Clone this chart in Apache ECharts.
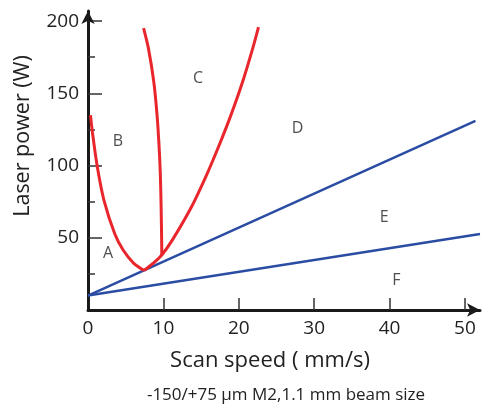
<!DOCTYPE html>
<html>
<head>
<meta charset="utf-8">
<script src="https://cdn.jsdelivr.net/npm/echarts@6/dist/echarts.min.js"></script>
<style>html,body{margin:0;padding:0;background:#fff}#c{width:487px;height:408px}</style>
</head>
<body>
<div id="c"></div>
<script>
// ---- data ----
const xTickLabels = [0, 10, 20, 30, 40, 50];
const xTicks = [10, 20, 30, 40, 50];
const yTickLabels = [50, 100, 150, 200];
const yMinorTicks = [25, 75, 125, 175];

const upperBlue = [[0, 10], [51.4, 131]];
const lowerBlue = [[0, 10], [52, 52.6]];
const redLeft = [[0.33, 134.9], [0.60, 122.5], [1.24, 99.0], [2.11, 76.1], [3.56, 52.6], [4.66, 41.5], [6.04, 32.5], [7.44, 27.3]];
const redRight = [[7.44, 27.3], [8.62, 32.2], [9.79, 38.1], [11.18, 48.4], [13.72, 71.3], [15.84, 94.8], [17.41, 114.2], [18.96, 134.9], [20.50, 157.8], [21.86, 181.3], [22.62, 195.8]];
const redC = [[7.37, 195.2], [8.01, 181.3], [8.73, 157.8], [9.16, 134.9], [9.42, 114.2], [9.59, 94.8], [9.70, 71.3], [9.77, 48.4], [9.79, 38.1]];

const regionNames = ['A', 'B', 'C', 'D', 'E', 'F'];
const regionX = [2.66, 3.98, 14.6, 27.8, 39.3, 40.9];
const regionY = [39.4, 116.6, 160.6, 125.9, 64.4, 20.4];

const xTitle = 'Scan speed ( mm/s)';
const yTitle = 'Laser power (W)';
const subTitle = '-150/+75 µm M2,1.1 mm beam size';

// ---- chart ----
const FONT = 'Open Sans';
const RED = '#e8262c';
const BLUE = '#2a4da3';
const chart = echarts.init(document.getElementById('c'), null, { renderer: 'canvas' });

const regionData = regionNames.map((n, i) => ({ name: n, value: [regionX[i], regionY[i]] }));

chart.setOption({
  animation: false,
  backgroundColor: '#fff',
  grid: { left: 88, top: 11, width: 392, height: 299, containLabel: false },
  xAxis: {
    type: 'value', min: 0, max: 52,
    splitLine: { show: false },
    axisLine: { show: true, lineStyle: { color: '#1a1a1a', width: 3 }, symbol: ['none', 'arrow'], symbolSize: [10, 13] },
    axisTick: { show: true, inside: true, length: 12, customValues: xTicks, lineStyle: { color: '#333', width: 1.5 } },
    axisLabel: { customValues: xTickLabels, margin: 9, color: '#222', fontSize: 19, fontFamily: FONT }
  },
  yAxis: [{
    type: 'value', min: 0, max: 207, position: 'left',
    splitLine: { show: false },
    axisLine: { show: true, lineStyle: { color: '#1a1a1a', width: 3 }, symbol: ['none', 'arrow'], symbolSize: [10, 13] },
    axisTick: { show: true, inside: true, length: 14, customValues: yTickLabels, lineStyle: { color: '#333', width: 1.5 } },
    axisLabel: { customValues: yTickLabels, margin: 9, color: '#222', fontSize: 19, fontFamily: FONT }
  }, {
    type: 'value', min: 0, max: 207, position: 'left', offset: 0,
    splitLine: { show: false },
    axisLine: { show: false },
    axisTick: { show: true, inside: true, length: 7, customValues: yMinorTicks, lineStyle: { color: '#333', width: 1.5 } },
    axisLabel: { show: false }
  }],
  graphic: [
    { type: 'text', x: 270, y: 361, style: { text: xTitle, font: '22px "Open Sans"', fill: '#222', align: 'center', verticalAlign: 'middle' } },
    { type: 'text', x: 23, y: 136, rotation: Math.PI / 2, style: { text: yTitle, font: '21.5px "Open Sans"', fill: '#222', align: 'center', verticalAlign: 'middle' } },
    { type: 'text', x: 286, y: 395, style: { text: subTitle, font: '17px "Open Sans"', fill: '#222', align: 'center', verticalAlign: 'middle' } }
  ],
  series: [
    { type: 'line', data: upperBlue, symbol: 'none', lineStyle: { color: BLUE, width: 2.5 }, z: 2 },
    { type: 'line', data: lowerBlue, symbol: 'none', lineStyle: { color: BLUE, width: 2.5 }, z: 2 },
    { type: 'line', data: redLeft, smooth: 0.3, symbol: 'none', lineStyle: { color: RED, width: 3 }, z: 3 },
    { type: 'line', data: redRight, smooth: 0.3, symbol: 'none', lineStyle: { color: RED, width: 3 }, z: 3 },
    { type: 'line', data: redC, smooth: 0.3, symbol: 'none', lineStyle: { color: RED, width: 3 }, z: 3 },
    {
      type: 'scatter', data: regionData, symbolSize: 1, itemStyle: { color: 'rgba(0,0,0,0)' }, silent: true,
      label: { show: true, position: 'inside', formatter: '{b}', color: '#222', fontSize: 16, fontFamily: FONT }
    }
  ]
});
</script>
</body>
</html>
